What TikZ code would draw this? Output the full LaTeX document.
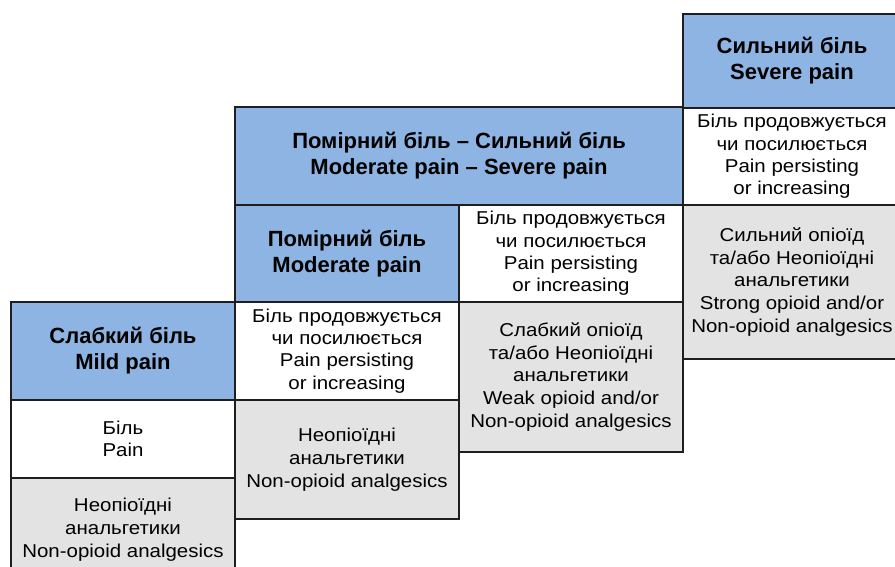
\documentclass[tikz,border=0pt]{standalone}
\usepackage{fontspec}
\setmainfont{Liberation Sans}[FakeStretch=1.1]
\newfontfamily\hdrfont{Liberation Sans}
\definecolor{hdrblue}{RGB}{141,180,226}
\definecolor{cellgray}{RGB}{227,227,227}
\definecolor{edge}{RGB}{30,30,30}
\tikzset{
  cellbox/.style={draw=edge, line width=2pt, inner sep=0pt, align=center, anchor=north west},
  hdr/.style={cellbox, fill=hdrblue, font=\hdrfont\fontsize{22}{26}\selectfont\bfseries},
  wcell/.style={cellbox, fill=white, font=\fontsize{18.6}{22.3}\selectfont},
  gcell/.style={cellbox, fill=cellgray, font=\fontsize{18.6}{22.8}\selectfont},
}
\begin{document}
\begin{tikzpicture}[x=1pt,y=-1pt]
\useasboundingbox (0,0) rectangle (895,567);
\clip (0,0) rectangle (895,567);
% column 1
\node[hdr, minimum width=224pt, minimum height=98pt] (h1) at (10,301) {Слабкий біль\\Mild pain};
\node[wcell, minimum width=224pt, minimum height=78pt] (w1) at (10,399) {Біль\\Pain};
\node[gcell, minimum width=224pt, minimum height=103pt] (g1) at (10,477) {Неопіоїдні\\анальгетики\\Non-opioid analgesics};
% column 2
\node[hdr, minimum width=224pt, minimum height=97pt] (h2) at (234,204) {Помірний біль\\Moderate pain};
\node[wcell, minimum width=224pt, minimum height=98pt] (w2) at (234,301) {Біль продовжується\\чи посилюється\\Pain persisting\\or increasing};
\node[gcell, minimum width=224pt, minimum height=119pt] (g2) at (234,399) {Неопіоїдні\\анальгетики\\Non-opioid analgesics};
% wide header
\node[hdr, minimum width=448pt, minimum height=98pt] (hw) at (234,106) {Помірний біль – Сильний біль\\Moderate pain – Severe pain};
% column 3
\node[wcell, minimum width=224pt, minimum height=97pt] (w3) at (458,204) {Біль продовжується\\чи посилюється\\Pain persisting\\or increasing};
\node[gcell, minimum width=224pt, minimum height=150pt] (g3) at (458,301) {Слабкий опіоїд\\та/або Неопіоїдні\\анальгетики\\Weak opioid and/or\\Non-opioid analgesics};
% column 4
\node[hdr, minimum width=218pt, minimum height=94pt] (h4) at (682,13) {Сильний біль\\Severe pain};
\node[wcell, minimum width=218pt, minimum height=97pt] (w4) at (682,107) {Біль продовжується\\чи посилюється\\Pain persisting\\or increasing};
\node[gcell, minimum width=218pt, minimum height=154pt] (g4) at (682,204) {Сильний опіоїд\\та/або Неопіоїдні\\анальгетики\\Strong opioid and/or\\Non-opioid analgesics};
\end{tikzpicture}
\end{document}
